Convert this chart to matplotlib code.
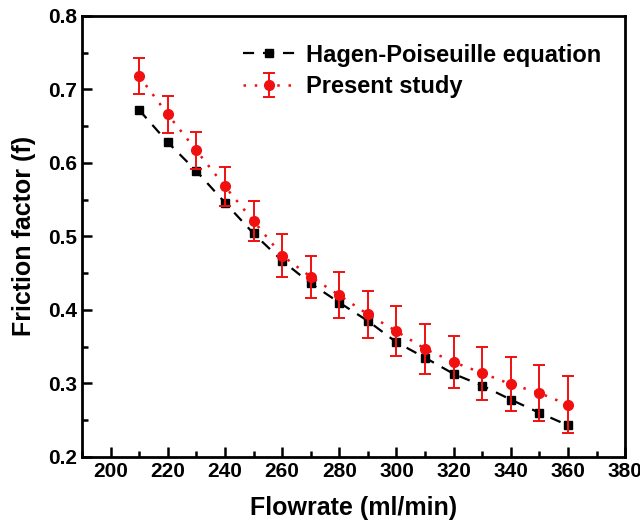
import matplotlib
matplotlib.use("Agg")
import matplotlib.pyplot as plt
from matplotlib.ticker import MultipleLocator

plt.rcParams['font.family'] = ['Liberation Sans', 'DejaVu Sans']
plt.rcParams['font.weight'] = 'bold'

flowrate = [210, 220, 230, 240, 250, 260, 270, 280, 290, 300, 310, 320, 330, 340, 350, 360]
hagen = [0.672, 0.628, 0.589, 0.546, 0.504, 0.467, 0.436, 0.410, 0.385, 0.356, 0.335, 0.313, 0.297, 0.278, 0.260, 0.243]
present = [0.718, 0.666, 0.617, 0.568, 0.521, 0.474, 0.445, 0.420, 0.394, 0.371, 0.347, 0.329, 0.314, 0.299, 0.287, 0.271]
present_err = [0.024, 0.025, 0.025, 0.027, 0.027, 0.029, 0.029, 0.031, 0.032, 0.034, 0.034, 0.035, 0.036, 0.037, 0.038, 0.039]

fig = plt.figure(figsize=(6.4, 5.28), dpi=100)
ax = fig.add_axes([0.128, 0.1345, 0.849, 0.8355])

red = '#f01010'
ax.plot(flowrate, hagen, color='black', linestyle=(0, (5, 4)), linewidth=1.6,
        marker='s', markersize=5.5, label='Hagen-Poiseuille equation', zorder=3)
ax.errorbar(flowrate, present, yerr=present_err, color=red, ecolor=red,
            linestyle=(0, (1, 3.5)), linewidth=1.8, marker='o', markersize=7,
            elinewidth=1.4, capsize=4, capthick=1.4, label='Present study', zorder=4)

ax.set_xlim(190, 380)
ax.set_ylim(0.2, 0.8)
ax.xaxis.set_major_locator(MultipleLocator(20))
ax.xaxis.set_minor_locator(MultipleLocator(10))
ax.yaxis.set_major_locator(MultipleLocator(0.1))
ax.yaxis.set_minor_locator(MultipleLocator(0.05))
ax.tick_params(which='both', direction='in', width=1.8, labelsize=15)
ax.tick_params(which='major', length=7)
ax.tick_params(which='minor', length=4)
for s in ax.spines.values():
    s.set_linewidth(2)
for lab in ax.get_xticklabels() + ax.get_yticklabels():
    lab.set_fontweight('bold')

ax.set_xlabel('Flowrate (ml/min)', fontsize=18, fontweight='bold', labelpad=11)
ax.set_ylabel('Friction factor (f)', fontsize=18, fontweight='bold', labelpad=9)

handles, labels = ax.get_legend_handles_labels()
ax.legend(handles, labels, loc='upper right', frameon=False,
          handlelength=2.2, handletextpad=0.45, labelspacing=0.35,
          bbox_to_anchor=(0.995, 0.985), prop={'weight': 'bold', 'size': 17})

fig.savefig('out.png', dpi=100)
